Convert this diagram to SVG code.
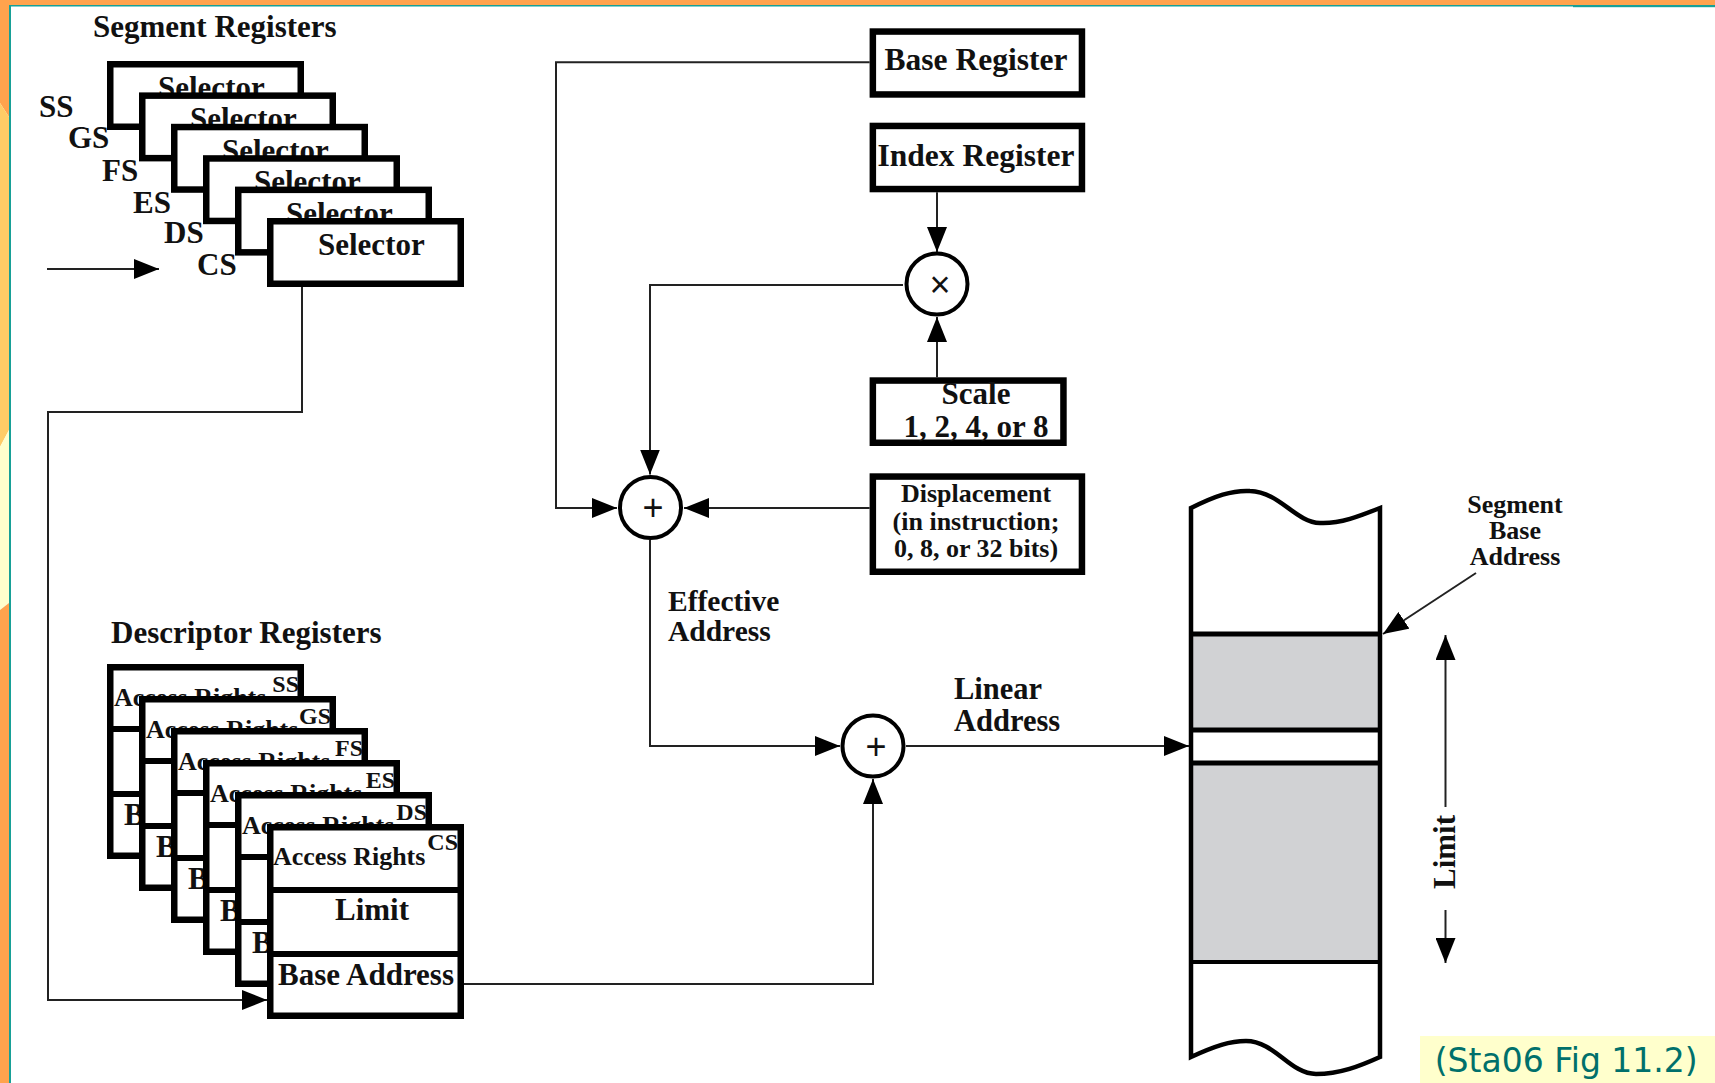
<svg xmlns="http://www.w3.org/2000/svg" width="1715" height="1083" viewBox="0 0 1715 1083">
<defs>
<style>
.t{font-family:"Liberation Serif","Times New Roman",serif;font-weight:bold;fill:#111}
.box{fill:#fff;stroke:#000;stroke-width:6.5}
.dv{stroke:#000;stroke-width:6}
.ln{fill:none;stroke:#222;stroke-width:2}
.circ{fill:#fff;stroke:#000;stroke-width:4}
.op{font-family:"Liberation Sans",Arial,sans-serif;font-size:36px;fill:#111;text-anchor:middle}
.s31{font-size:31px}
.s26{font-size:26px}
.s24{font-size:24px}
.mid{text-anchor:middle}
.end{text-anchor:end}
</style>
<marker id="ah" markerUnits="userSpaceOnUse" markerWidth="25" markerHeight="20" refX="25" refY="10" orient="auto" viewBox="0 0 25 20"><path d="M0,0 L25,10 L0,20 z" fill="#000"/></marker>
</defs>
<rect width="1715" height="1083" fill="#fff"/>
<g id="frame">
<rect x="0" y="0" width="1715" height="5" fill="#ffa34d"/>
<polygon points="0,0 9,0 9,117 0,103" fill="#ffa34d"/>
<polygon points="0,103 9,117 9,430 0,447" fill="#ffcc66"/>
<polygon points="0,447 9,430 9,603 0,610" fill="#ffffcc"/>
<polygon points="0,610 9,603 9,1083 0,1083" fill="#ffa34d"/>
<rect x="9" y="5" width="1564" height="1.5" fill="#17a097"/>
<rect x="1573" y="5" width="142" height="2.2" fill="#17a097"/>
<rect x="9" y="5" width="2" height="1078" fill="#17a097"/>
</g>

<g id="connectors">
<polyline class="ln" points="869.6,62.3 556,62.3 556,508 617,508" marker-end="url(#ah)"/>
<line class="ln" x1="937" y1="192.3" x2="937" y2="252" marker-end="url(#ah)"/>
<line class="ln" x1="937" y1="377.3" x2="937" y2="317" marker-end="url(#ah)"/>
<polyline class="ln" points="903,285 650,285 650,474.5" marker-end="url(#ah)"/>
<line class="ln" x1="869.6" y1="508" x2="684" y2="508" marker-end="url(#ah)"/>
<polyline class="ln" points="650,540 650,746 840,746" marker-end="url(#ah)"/>
<polyline class="ln" points="464,984 873,984 873,779" marker-end="url(#ah)"/>
<line class="ln" x1="906" y1="746" x2="1189" y2="746" marker-end="url(#ah)"/>
<polyline class="ln" points="302,287 302,412 48,412 48,1000 267,1000" marker-end="url(#ah)"/>
<line class="ln" x1="47" y1="269" x2="159" y2="269" marker-end="url(#ah)"/>
<line class="ln" x1="1476" y1="573" x2="1383" y2="634" marker-end="url(#ah)"/>
<line class="ln" x1="1445.5" y1="807" x2="1445.5" y2="635" marker-end="url(#ah)"/>
<line class="ln" x1="1445.5" y1="910" x2="1445.5" y2="963" marker-end="url(#ah)"/>
</g>

<g id="segment-registers">
<text class="t s31" x="93" y="37">Segment Registers</text>
<text class="t s31" x="39" y="117">SS</text>
<text class="t s31" x="68" y="148">GS</text>
<text class="t s31" x="102" y="181">FS</text>
<text class="t s31" x="133" y="213">ES</text>
<text class="t s31" x="164" y="243">DS</text>
<text class="t s31" x="197" y="275">CS</text>
</g>
<g id="sel-ss"><rect class="box" x="110.25" y="64.25" width="190.5" height="62.5"/><text class="t s31" x="158" y="98">Selector</text></g>
<g id="sel-gs"><rect class="box" x="142.25" y="95.65" width="190.5" height="62.5"/><text class="t s31" x="190" y="129.4">Selector</text></g>
<g id="sel-fs"><rect class="box" x="174.25" y="127.05" width="190.5" height="62.5"/><text class="t s31" x="222" y="160.8">Selector</text></g>
<g id="sel-es"><rect class="box" x="206.25" y="158.45" width="190.5" height="62.5"/><text class="t s31" x="254" y="192.2">Selector</text></g>
<g id="sel-ds"><rect class="box" x="238.25" y="189.85" width="190.5" height="62.5"/><text class="t s31" x="286" y="223.6">Selector</text></g>
<g id="sel-cs"><rect class="box" x="270.25" y="221.25" width="190.5" height="62.5"/><text class="t s31" x="318" y="255">Selector</text></g>

<g id="descriptor-registers"><text class="t s31" x="111" y="643">Descriptor Registers</text></g>
<g id="desc-ss"><rect class="box" x="110.25" y="667.25" width="190.5" height="188.5"/><line class="dv" x1="107" y1="729" x2="304" y2="729"/><line class="dv" x1="107" y1="794" x2="304" y2="794"/>
<text class="t s26" x="114" y="706">Access Rights</text><text class="t s24 end" x="299" y="692">SS</text><text class="t s31" x="124" y="825">B</text></g>
<g id="desc-gs"><rect class="box" x="142.25" y="699.25" width="190.5" height="188.5"/><line class="dv" x1="139" y1="761" x2="336" y2="761"/><line class="dv" x1="139" y1="826" x2="336" y2="826"/>
<text class="t s26" x="146" y="738">Access Rights</text><text class="t s24 end" x="331" y="724">GS</text><text class="t s31" x="156" y="857">B</text></g>
<g id="desc-fs"><rect class="box" x="174.25" y="731.25" width="190.5" height="188.5"/><line class="dv" x1="171" y1="793" x2="368" y2="793"/><line class="dv" x1="171" y1="858" x2="368" y2="858"/>
<text class="t s26" x="178" y="770">Access Rights</text><text class="t s24 end" x="363" y="756">FS</text><text class="t s31" x="188" y="889">B</text></g>
<g id="desc-es"><rect class="box" x="206.25" y="763.25" width="190.5" height="188.5"/><line class="dv" x1="203" y1="825" x2="400" y2="825"/><line class="dv" x1="203" y1="890" x2="400" y2="890"/>
<text class="t s26" x="210" y="802">Access Rights</text><text class="t s24 end" x="395" y="788">ES</text><text class="t s31" x="220" y="921">B</text></g>
<g id="desc-ds"><rect class="box" x="238.25" y="795.25" width="190.5" height="188.5"/><line class="dv" x1="235" y1="857" x2="432" y2="857"/><line class="dv" x1="235" y1="922" x2="432" y2="922"/>
<text class="t s26" x="242" y="834">Access Rights</text><text class="t s24 end" x="427" y="820">DS</text><text class="t s31" x="252" y="953">B</text></g>
<g id="desc-cs"><rect class="box" x="270.25" y="827.25" width="190.5" height="188.5"/><line class="dv" x1="267" y1="890" x2="464" y2="890"/><line class="dv" x1="267" y1="954" x2="464" y2="954"/>
<text class="t s26" x="273" y="865">Access Rights</text><text class="t s24 end" x="458" y="850">CS</text><text class="t s31" x="335" y="920">Limit</text><text class="t s31" x="278" y="985">Base Address</text></g>

<g id="base-register"><rect class="box" x="872.85" y="31.55" width="209.1" height="62.9"/><text class="t mid" style="font-size:31.5px" x="976" y="70">Base Register</text></g>
<g id="index-register"><rect class="box" x="872.85" y="125.95" width="209.1" height="63.1"/><text class="t mid" style="font-size:31.5px" x="976" y="165.7">Index Register</text></g>
<g id="scale"><rect class="box" x="872.85" y="380.55" width="190.6" height="62.2"/><text class="t s31 mid" x="976" y="404">Scale<tspan x="976" dy="32.7">1, 2, 4, or 8</tspan></text></g>
<g id="displacement"><rect class="box" x="872.85" y="476.55" width="209.1" height="95.2"/>
<text class="t mid" style="font-size:26px" x="976" y="502">Displacement<tspan x="976" dy="27.5">(in instruction;</tspan><tspan x="976" dy="27.5">0, 8, or 32 bits)</tspan></text></g>

<g id="multiply"><circle class="circ" cx="937" cy="284" r="30.5"/><text class="op" x="940" y="297">×</text></g>
<g id="add-effective"><circle class="circ" cx="650.5" cy="507.5" r="30.5"/><text class="op" x="653" y="520">+</text></g>
<g id="add-linear"><circle class="circ" cx="873" cy="746" r="30.5"/><text class="op" x="876" y="759">+</text></g>

<g id="labels">
<text class="t" style="font-size:29.5px" x="668" y="610.5">Effective<tspan x="668" dy="30">Address</tspan></text>
<text class="t" style="font-size:30.5px" x="954" y="698.5">Linear<tspan x="954" dy="32">Address</tspan></text>
<text class="t s26 mid" x="1515" y="512.7">Segment<tspan x="1515" dy="26.3">Base</tspan><tspan x="1515" dy="26">Address</tspan></text>
<text class="t s31 mid" transform="translate(1454.5,852) rotate(-90)" x="0" y="0">Limit</text>
</g>

<g id="memory">
<rect x="1191" y="634" width="189" height="96" fill="#d1d2d4"/>
<rect x="1191" y="763" width="189" height="199" fill="#d1d2d4"/>
<path d="M1191,508 C1215,496 1232,490 1250,491 C1280,492 1295,522 1320,523 C1340,524 1360,516 1380,508 L1380,1057 C1360,1066 1340,1074 1316,1074 C1290,1074 1275,1041 1246,1041 C1230,1041 1215,1046 1191,1057 Z" fill="none" stroke="#000" stroke-width="4.5"/>
<line x1="1191" y1="634" x2="1380" y2="634" stroke="#000" stroke-width="5"/>
<line x1="1191" y1="730" x2="1380" y2="730" stroke="#000" stroke-width="5"/>
<line x1="1191" y1="763" x2="1380" y2="763" stroke="#000" stroke-width="5"/>
<line x1="1191" y1="962" x2="1380" y2="962" stroke="#000" stroke-width="4"/>
</g>

<g id="caption">
<rect x="1420" y="1036" width="295" height="47" fill="#ffffcc"/>
<text x="1434.7" y="1071.7" style="font-family:'DejaVu Sans',sans-serif;font-size:33px;fill:#00706b">(Sta06 Fig 11.2)</text>
</g>
</svg>
